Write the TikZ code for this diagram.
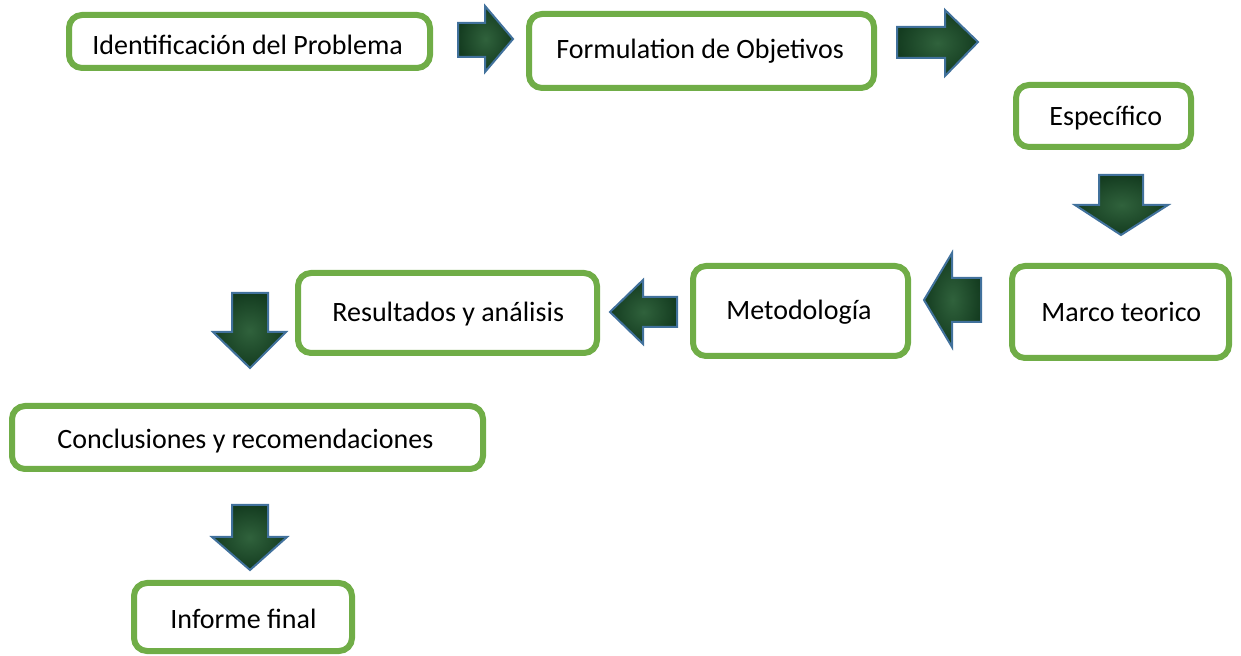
\documentclass[tikz,border=0pt]{standalone}
\usepackage{fontspec}
\setmainfont{Carlito}
\definecolor{boxgreen}{RGB}{112,173,71}
\definecolor{arrowfill}{RGB}{20,60,32}
\definecolor{arrowlight}{RGB}{48,98,60}
\definecolor{arrowline}{RGB}{65,113,156}
\tikzset{
  stepbox/.style={draw=boxgreen, line width=3pt, rounded corners=6.5pt, fill=white, inner sep=0pt},
  label/.style={anchor=base west, inner sep=0pt, font=\fontsize{14pt}{16pt}\selectfont, text=black},
  blockarrow/.style={draw=arrowline, line width=1pt, inner color=arrowlight, outer color=arrowfill, line join=miter}
}
\begin{document}
\begin{tikzpicture}[x=0.5pt,y=-0.5pt]
\useasboundingbox (0,0) rectangle (1241,656);
% boxes
\node[stepbox, minimum width=180.5pt, minimum height=26.5pt] (b1) at (249.5,41.5) {};
\node[stepbox, minimum width=172.5pt, minimum height=37pt] (b2) at (701.5,51) {};
\node[stepbox, minimum width=87.5pt, minimum height=31pt] (b3) at (1103.5,116) {};
\node[stepbox, minimum width=108.5pt, minimum height=46pt] (b4) at (1120.5,312) {};
\node[stepbox, minimum width=107.5pt, minimum height=45pt] (b5) at (800.5,311) {};
\node[stepbox, minimum width=149.5pt, minimum height=40pt] (b6) at (447.5,313) {};
\node[stepbox, minimum width=235.5pt, minimum height=31.5pt] (b7) at (247.5,437.5) {};
\node[stepbox, minimum width=109pt, minimum height=34pt] (b8) at (243,617) {};
% texts
\node[label] (t1) at (92,55) {Identificación del Problema};
\node[label] (t2) at (556,59) {Formulation de Objetivos};
\node[label] (t3) at (1049,126) {Específico};
\node[label] (t4) at (1041,322) {Marco teorico};
\node[label] (t5) at (726,320) {Metodología};
\node[label] (t6) at (332,322) {Resultados y análisis};
\node[label] (t7) at (57,449) {Conclusiones y recomendaciones};
\node[label] (t8) at (170,628) {Informe final};
% block arrows
\path[blockarrow] (458,23)--(485,23)--(485,6)--(513,39)--(485,72)--(485,57)--(458,57)--cycle;
\path[blockarrow] (897,27)--(945,27)--(945,10)--(978,42)--(945,76)--(945,58)--(897,58)--cycle;
\path[blockarrow] (1099,175)--(1143,175)--(1143,205)--(1168,205)--(1121,235)--(1075,205)--(1099,205)--cycle;
\path[blockarrow] (981,278)--(952,278)--(952,253)--(924,300)--(952,347)--(952,322)--(981,322)--cycle;
\path[blockarrow] (677,297)--(643,297)--(643,280)--(610,312)--(643,344)--(643,327)--(677,327)--cycle;
\path[blockarrow] (232,293)--(268,293)--(268,332)--(286,332)--(250,368)--(213,332)--(232,332)--cycle;
\path[blockarrow] (232,505)--(268,505)--(268,537)--(287,537)--(250,570)--(212,537)--(232,537)--cycle;
\end{tikzpicture}
\end{document}
